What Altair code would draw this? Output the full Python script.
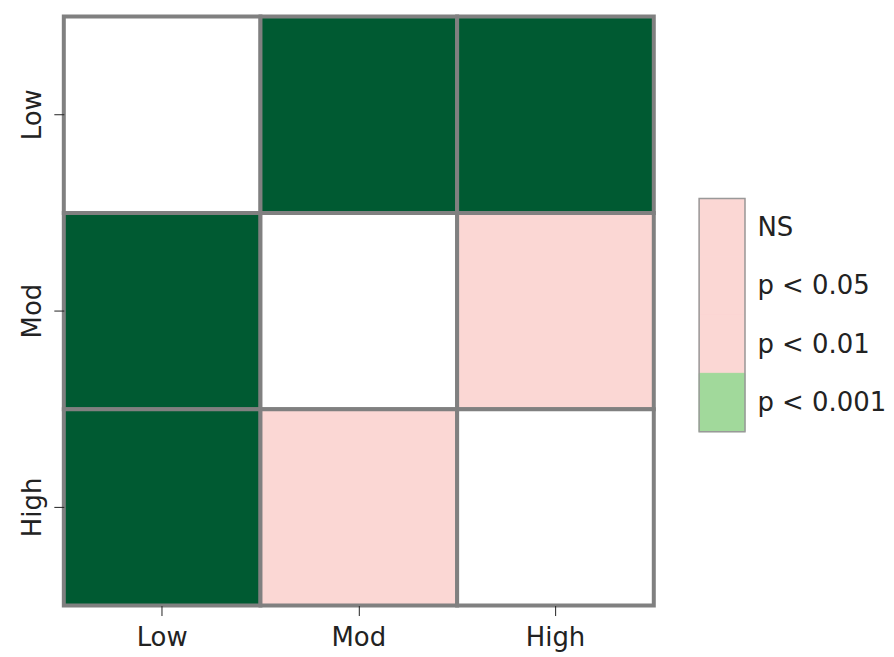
import json
import altair as alt
import pandas as pd

# --- data -------------------------------------------------------------
groups = ["Low", "Mod", "High"]
# significance level of each comparison (row = y group, column = x group)
row_group = ["Low", "Low", "Low", "Mod", "Mod", "Mod", "High", "High", "High"]
col_group = ["Low", "Mod", "High", "Low", "Mod", "High", "Low", "Mod", "High"]
level = ["diag", "p < 0.001", "p < 0.001",
         "p < 0.001", "diag", "NS",
         "p < 0.001", "NS", "diag"]

level_domain = ["diag", "NS", "p < 0.05", "p < 0.01", "p < 0.001"]
level_colors = ["#ffffff", "#fbd7d4", "#a1d99b", "#238b45", "#005a32"]

# colorbar segments (top to bottom)
cbar_labels = ["NS", "p < 0.05", "p < 0.01", "p < 0.001"]
cbar_colors = ["#fbd7d4", "#fbd7d4", "#fbd7d4", "#a1d99b"]

FONT = "DejaVu Sans"
FS = 26
GRAY = "#808080"

heat_df = pd.DataFrame({"row": row_group, "col": col_group, "level": level})

heat = alt.Chart(heat_df).mark_rect(stroke=GRAY, strokeWidth=4).encode(
    x=alt.X("col:N", sort=groups, title=None,
            scale=alt.Scale(paddingInner=0, paddingOuter=0),
            axis=alt.Axis(labelAngle=0, labelFontSize=FS, labelFont=FONT,
                          labelColor="#222222", tickSize=10, tickColor="#222222",
                          labelPadding=9, domain=False, grid=False,
                          minExtent=42, maxExtent=42)),
    y=alt.Y("row:N", sort=groups, title=None,
            scale=alt.Scale(paddingInner=0, paddingOuter=0),
            axis=alt.Axis(labelAngle=-90, labelAlign="center", labelBaseline="bottom",
                          labelFontSize=FS, labelFont=FONT, labelColor="#222222",
                          tickSize=10, tickColor="#222222", labelPadding=8,
                          domain=False, grid=False, minExtent=50.5, maxExtent=50.5)),
    color=alt.Color("level:N", scale=alt.Scale(domain=level_domain, range=level_colors),
                    legend=None),
).properties(width=592, height=591, view=alt.ViewBackground(stroke=None))

# --- colorbar ------------------------------------------------------------
cb_df = pd.DataFrame({
    "label": cbar_labels,
    "color": cbar_colors,
    "y0": list(range(len(cbar_labels))),
    "y1": [i + 1 for i in range(len(cbar_labels))],
})
n = len(cbar_labels)
label_expr = json.dumps(cbar_labels) + "[floor(datum.value)]"
yscale = alt.Scale(domain=[-3.12, 6.983], reverse=True, nice=False, zero=False)

cb_rect = alt.Chart(cb_df).mark_rect(strokeWidth=1).encode(
    y=alt.Y("y0:Q", scale=yscale, title=None,
            axis=alt.Axis(orient="right", values=[i + 0.5 for i in range(n)],
                          labelExpr=label_expr, labelFontSize=FS, labelFont=FONT,
                          labelColor="#222222", tickSize=0, labelPadding=12,
                          domain=False, grid=False, labelAlign="left",
                          labelBaseline="middle", maxExtent=136)),
    y2="y1:Q",
    color=alt.Color("color:N", scale=None, legend=None),
    stroke=alt.Stroke("color:N", scale=None, legend=None),
)

cb_border = alt.Chart(pd.DataFrame({"y0": [0], "y1": [n]})).mark_rect(
    fill=None, stroke="#999999", strokeWidth=1.5
).encode(y=alt.Y("y0:Q", scale=yscale), y2="y1:Q")

cbar = alt.layer(cb_rect, cb_border).properties(
    width=46, height=591, view=alt.ViewBackground(stroke=None))

chart = alt.hconcat(heat, cbar, spacing=42.5).properties(
    padding={"left": 5, "top": 5.5, "right": 0, "bottom": 0}
).configure_view(stroke=None)

chart.save("out.html", embed_options={"renderer": "svg", "actions": False})
